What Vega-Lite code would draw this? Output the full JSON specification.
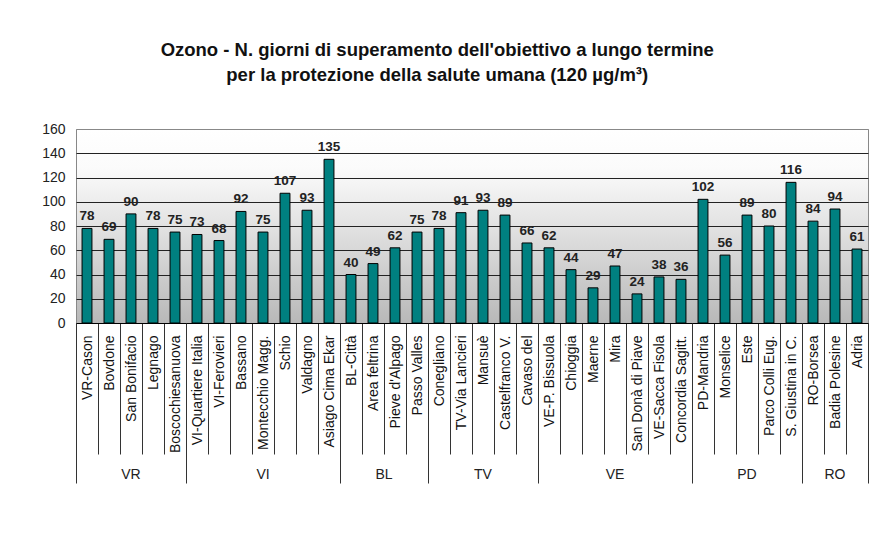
{
  "$schema": "https://vega.github.io/schema/vega-lite/v6.json",
  "width": 792,
  "height": 194,
  "padding": {"left": 6, "top": 40, "right": 12, "bottom": 5},
  "background": "white",
  "title": {
    "text": ["Ozono - N. giorni di superamento dell'obiettivo a lungo termine", "per la protezione della salute umana (120 µg/m³)"],
    "font": "Liberation Sans",
    "fontSize": 18.5,
    "fontWeight": "bold",
    "lineHeight": 25,
    "anchor": "middle",
    "frame": "bounds",
    "offset": 38,
    "color": "#111111"
  },
  "view": {
    "fill": {"gradient": "linear", "x1": 0, "y1": 0, "x2": 0, "y2": 1,
      "stops": [{"offset": 0, "color": "#ffffff"}, {"offset": 0.2, "color": "#fbfbfb"}, {"offset": 1, "color": "#b8b8b8"}]},
    "stroke": "#888888",
    "strokeWidth": 1
  },
  "data": {
    "values": [
      {"station": "VR-Cason", "group": "VR", "value": 78},
      {"station": "Bovdone", "group": "VR", "value": 69},
      {"station": "San Bonifacio", "group": "VR", "value": 90},
      {"station": "Legnago", "group": "VR", "value": 78},
      {"station": "Boscochiesanuova", "group": "VR", "value": 75},
      {"station": "VI-Quartiere Italia", "group": "VI", "value": 73},
      {"station": "VI-Ferovieri", "group": "VI", "value": 68},
      {"station": "Bassano", "group": "VI", "value": 92},
      {"station": "Montecchio Magg.", "group": "VI", "value": 75},
      {"station": "Schio", "group": "VI", "value": 107},
      {"station": "Valdagno", "group": "VI", "value": 93},
      {"station": "Asiago Cima Ekar", "group": "VI", "value": 135},
      {"station": "BL-Città", "group": "BL", "value": 40},
      {"station": "Area feltrina", "group": "BL", "value": 49},
      {"station": "Pieve d'Alpago", "group": "BL", "value": 62},
      {"station": "Passo Valles", "group": "BL", "value": 75},
      {"station": "Conegliano", "group": "TV", "value": 78},
      {"station": "TV-Via Lancieri", "group": "TV", "value": 91},
      {"station": "Mansuè", "group": "TV", "value": 93},
      {"station": "Castelfranco V.", "group": "TV", "value": 89},
      {"station": "Cavaso del", "group": "TV", "value": 66},
      {"station": "VE-P. Bissuola", "group": "VE", "value": 62},
      {"station": "Chioggia", "group": "VE", "value": 44},
      {"station": "Maerne", "group": "VE", "value": 29},
      {"station": "Mira", "group": "VE", "value": 47},
      {"station": "San Donà di Piave", "group": "VE", "value": 24},
      {"station": "VE-Sacca Fisola", "group": "VE", "value": 38},
      {"station": "Concordia Sagitt.", "group": "VE", "value": 36},
      {"station": "PD-Mandria", "group": "PD", "value": 102},
      {"station": "Monselice", "group": "PD", "value": 56},
      {"station": "Este", "group": "PD", "value": 89},
      {"station": "Parco Colli Eug.", "group": "PD", "value": 80},
      {"station": "S. Giustina in C.", "group": "PD", "value": 116},
      {"station": "RO-Borsea", "group": "RO", "value": 84},
      {"station": "Badia Polesine", "group": "RO", "value": 94},
      {"station": "Adria", "group": "RO", "value": 61}
    ]
  },
  "layer": [
    {
      "mark": {"type": "bar", "fill": "#008080", "stroke": "#000000", "strokeWidth": 1, "width": {"band": 0.45}},
      "encoding": {
        "x": {
          "field": "station", "type": "nominal", "sort": null,
          "scale": {"paddingInner": 0, "paddingOuter": 0},
          "axis": {
            "orient": "bottom", "title": null, "labelAngle": -90,
            "labelFont": "Liberation Sans", "labelFontSize": 14, "labelColor": "#111111",
            "tickBand": "extent", "tickSize": 131, "tickColor": "#333333", "tickWidth": 1,
            "labelPadding": -119, "domainColor": "#000000", "labelLimit": 0
          }
        },
        "y": {
          "field": "value", "type": "quantitative",
          "scale": {"domain": [0, 160], "nice": false},
          "axis": {
            "title": null, "values": [0, 20, 40, 60, 80, 100, 120, 140, 160], "tickCount": 12,
            "labelOverlap": false,
            "grid": true,
            "gridColor": {"condition": {"test": "datum.value == 160", "value": "#888888"}, "value": "#222222"},
            "ticks": false, "domain": false,
            "labelFont": "Liberation Sans", "labelFontSize": 14, "labelColor": "#222222",
            "labelPadding": 11, "minExtent": 70, "maxExtent": 70
          }
        }
      }
    },
    {
      "mark": {"type": "text", "baseline": "bottom", "dy": -5, "font": "Liberation Sans", "fontSize": 13.5, "fontWeight": "bold", "color": "#222222"},
      "encoding": {
        "x": {
          "field": "station", "type": "nominal", "sort": null,
          "scale": {"paddingInner": 0, "paddingOuter": 0},
          "axis": {
            "orient": "bottom", "title": null,
            "values": ["VR-Cason", "Boscochiesanuova", "Asiago Cima Ekar", "Passo Valles", "Cavaso del", "Concordia Sagitt.", "S. Giustina in C.", "Adria"],
            "labels": false, "tickBand": "extent", "tickSize": 160, "domain": false,
            "tickColor": "#333333", "tickWidth": 1,
            "tickOpacity": {"condition": {"test": "datum.value === 'VR-Cason'", "value": 0}, "value": 1}
          }
        },
        "y": {
          "field": "value", "type": "quantitative",
          "axis": {
            "title": null, "values": [0, 20, 40, 60, 80, 100, 120, 140, 160], "tickCount": 12,
            "labelOverlap": false,
            "grid": true,
            "gridColor": {"condition": {"test": "datum.value == 160", "value": "#888888"}, "value": "#222222"},
            "ticks": false, "domain": false,
            "labelFont": "Liberation Sans", "labelFontSize": 14, "labelColor": "#222222",
            "labelPadding": 11, "minExtent": 70, "maxExtent": 70
          }
        },
        "text": {"field": "value", "type": "quantitative"}
      }
    },
    {
      "transform": [
        {"window": [{"op": "row_number", "as": "idx"}]},
        {"aggregate": [{"op": "mean", "field": "idx", "as": "center"}], "groupby": ["group"]}
      ],
      "mark": {"type": "text", "font": "Liberation Sans", "fontSize": 14, "baseline": "middle", "color": "#222222"},
      "encoding": {
        "x": {"field": "center", "type": "quantitative", "scale": {"domain": [0.5, 36.5], "nice": false, "zero": false}, "axis": null},
        "y": {
          "datum": -125, "type": "quantitative",
          "axis": {
            "title": null, "values": [0, 20, 40, 60, 80, 100, 120, 140, 160], "tickCount": 12,
            "labelOverlap": false,
            "grid": true,
            "gridColor": {"condition": {"test": "datum.value == 160", "value": "#888888"}, "value": "#222222"},
            "ticks": false, "domain": false,
            "labelFont": "Liberation Sans", "labelFontSize": 14, "labelColor": "#222222",
            "labelPadding": 11, "minExtent": 70, "maxExtent": 70
          }
        },
        "text": {"field": "group", "type": "nominal"}
      }
    }
  ],
  "resolve": {"scale": {"x": "independent"}, "axis": {"x": "independent"}}
}
